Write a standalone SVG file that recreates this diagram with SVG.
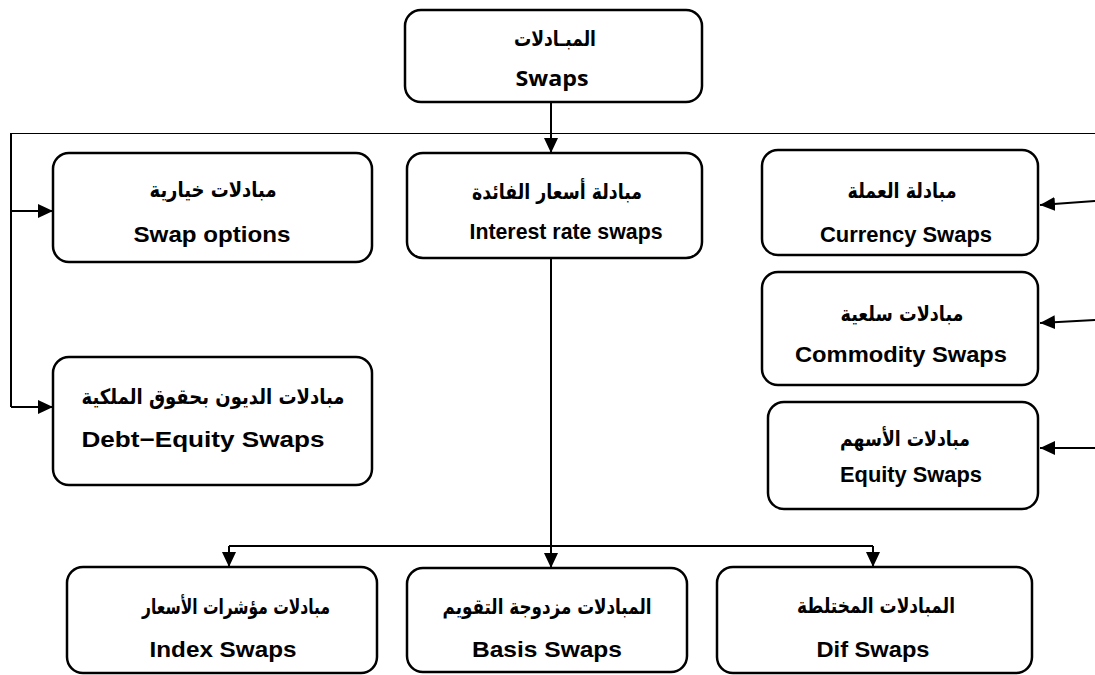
<svg xmlns="http://www.w3.org/2000/svg" width="1095" height="675" viewBox="0 0 1095 675">
<style>
.box{fill:#fff;stroke:#000;stroke-width:2.5}
.ar{font-family:"DejaVu Sans",sans-serif;font-weight:bold;font-size:21px;text-anchor:middle;fill:#000}
.en{font-family:"Liberation Sans",Arial,sans-serif;font-weight:bold;font-size:22px;text-anchor:middle;fill:#000}
.c{fill:none;stroke:#000;stroke-width:2}
</style>
<defs>
<marker id="ah" markerUnits="userSpaceOnUse" markerWidth="16" markerHeight="14" refX="15" refY="7" orient="auto">
<path d="M0,0 L15,7 L0,14 z" fill="#000"/>
</marker>
</defs>
<rect width="1095" height="675" fill="#fff"/>
<g id="connectors">
<line x1="10" y1="133.5" x2="1095" y2="133.5" stroke="#000" stroke-width="1"/>
<path class="c" d="M551,102 V153" marker-end="url(#ah)"/>
<path class="c" d="M11,133 V407"/>
<path class="c" d="M11,211 H53" marker-end="url(#ah)"/>
<path class="c" d="M11,407 H53" marker-end="url(#ah)"/>
<path class="c" d="M1095,201 L1040,205" marker-end="url(#ah)"/>
<path class="c" d="M1095,320 L1040,323" marker-end="url(#ah)"/>
<path class="c" d="M1095,448 H1040" marker-end="url(#ah)"/>
<path class="c" d="M551,258 V568" marker-end="url(#ah)"/>
<path class="c" d="M229,546 H873"/>
<path class="c" d="M229,546 V567" marker-end="url(#ah)"/>
<path class="c" d="M873,546 V567" marker-end="url(#ah)"/>
</g>
<g id="swaps">
<rect class="box" x="405" y="10" width="297" height="92" rx="16"/>
<text class="ar" x="555" y="46" textLength="82" lengthAdjust="spacingAndGlyphs">المبـادلات</text>
<text x="552" y="86" font-family="'Open Sans',sans-serif" font-weight="bold" font-size="22" text-anchor="middle" textLength="73" lengthAdjust="spacingAndGlyphs">Swaps</text>
</g>
<g id="swap-options">
<rect class="box" x="53" y="153" width="319" height="109" rx="16"/>
<text class="ar" x="213" y="197" textLength="127" lengthAdjust="spacingAndGlyphs">مبادلات خيارية</text>
<text class="en" x="212" y="242" textLength="157" lengthAdjust="spacingAndGlyphs">Swap options</text>
</g>
<g id="interest-rate">
<rect class="box" x="407" y="153" width="295" height="105" rx="16"/>
<text class="ar" x="557" y="199" textLength="170" lengthAdjust="spacingAndGlyphs">مبادلة أسعار الفائدة</text>
<text class="en" x="566" y="239" textLength="193" lengthAdjust="spacingAndGlyphs">Interest rate swaps</text>
</g>
<g id="currency">
<rect class="box" x="762" y="150" width="276" height="105" rx="16"/>
<text class="ar" x="902" y="198" textLength="109" lengthAdjust="spacingAndGlyphs">مبادلة العملة</text>
<text class="en" x="906" y="242" textLength="172" lengthAdjust="spacingAndGlyphs">Currency Swaps</text>
</g>
<g id="commodity">
<rect class="box" x="762" y="272" width="276" height="113" rx="16"/>
<text class="ar" x="902" y="321" textLength="123" lengthAdjust="spacingAndGlyphs">مبادلات سلعية</text>
<text class="en" x="901" y="362" textLength="212" lengthAdjust="spacingAndGlyphs">Commodity Swaps</text>
</g>
<g id="equity">
<rect class="box" x="768" y="402" width="270" height="107" rx="16"/>
<text class="ar" x="905" y="446" textLength="130" lengthAdjust="spacingAndGlyphs">مبادلات الأسهم</text>
<text class="en" x="911" y="482" textLength="142" lengthAdjust="spacingAndGlyphs">Equity Swaps</text>
</g>
<g id="debt-equity">
<rect class="box" x="53" y="357" width="319" height="128" rx="16"/>
<text class="ar" x="213" y="404" textLength="263" lengthAdjust="spacingAndGlyphs">مبادلات الديون بحقوق الملكية</text>
<text class="en" x="203" y="447" textLength="243" lengthAdjust="spacingAndGlyphs">Debt−Equity Swaps</text>
</g>
<g id="index">
<rect class="box" x="67" y="567" width="310" height="106" rx="16"/>
<text class="ar" x="236" y="614" textLength="188" lengthAdjust="spacingAndGlyphs">مبادلات مؤشرات الأسعار</text>
<text class="en" x="223" y="657" textLength="147" lengthAdjust="spacingAndGlyphs">Index Swaps</text>
</g>
<g id="basis">
<rect class="box" x="407" y="568" width="280" height="104" rx="16"/>
<text class="ar" x="547" y="614" textLength="209" lengthAdjust="spacingAndGlyphs">المبادلات مزدوجة التقويم</text>
<text class="en" x="547" y="657" textLength="150" lengthAdjust="spacingAndGlyphs">Basis Swaps</text>
</g>
<g id="dif">
<rect class="box" x="717" y="567" width="315" height="106" rx="16"/>
<text class="ar" x="876" y="613" textLength="158" lengthAdjust="spacingAndGlyphs">المبادلات المختلطة</text>
<text class="en" x="873" y="657" textLength="113" lengthAdjust="spacingAndGlyphs">Dif Swaps</text>
</g>
</svg>
